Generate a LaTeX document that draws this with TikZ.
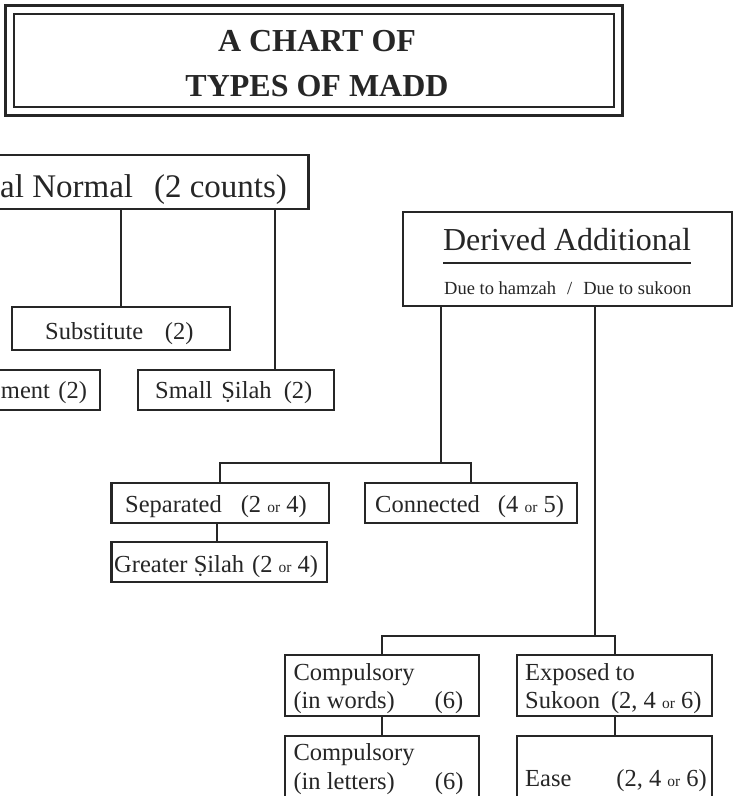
\documentclass[tikz,border=0pt]{standalone}
\usepackage{fontspec}
\setmainfont{Liberation Serif}
\definecolor{ink}{RGB}{38,38,38}
\newcommand\orsm{{\fontsize{15.5}{15.5}\selectfont or}}
\tikzset{
  box/.style={draw=ink, line width=2.3pt, rectangle, inner sep=0pt},
  link/.style={draw=ink, line width=2pt},
  lbl/.style={inner sep=0pt, text=ink, font=\fontsize{24.5}{28.3}\selectfont},
  biglbl/.style={inner sep=0pt, text=ink, font=\fontsize{33}{36}\selectfont},
}
\begin{document}
\begin{tikzpicture}[x=1pt,y=-1pt]
\fill[white] (0,0) rectangle (733,796);
\useasboundingbox (0,0) rectangle (733,796);

% title
\node[box, line width=2pt, minimum width=599.2pt, minimum height=93.3pt] (tframe) at (313.9,60.65) {};
\draw[ink, line width=3pt] ([shift={(-7.8,-7.3)}]tframe.north west) rectangle ([shift={(8,7.2)}]tframe.south east);
\node[inner sep=0pt, text=ink, align=center, font=\bfseries\fontsize{32}{45}\selectfont] (title) at (317,63.6) {A CHART OF\\TYPES OF MADD};

% boxes
\node[box, minimum width=348.5pt, minimum height=53.7pt] (normal) at (134.25,181.85) {};
\node[box, minimum width=218.3pt, minimum height=43.3pt] (subst) at (120.85,328.35) {};
\node[box, minimum width=140pt, minimum height=40pt] (repl) at (30,390) {};
\node[box, minimum width=195.7pt, minimum height=40pt] (small) at (236.15,390) {};
\node[box, minimum width=329pt, minimum height=94.3pt] (derived) at (567.2,258.85) {};
\node[box, minimum width=217.5pt, minimum height=39.4pt] (sep) at (220.25,503) {};
\node[box, minimum width=215.5pt, minimum height=40pt] (greater) at (219.25,562) {};
\node[box, minimum width=211.7pt, minimum height=39.4pt] (conn) at (470.85,503) {};
\node[box, minimum width=194.3pt, minimum height=61pt] (cw) at (382.15,685.5) {};
\node[box, minimum width=194.4pt, minimum height=61pt] (ex) at (614.5,685.5) {};
\node[box, minimum width=194.3pt, minimum height=66.3pt] (cl) at (382.15,768.85) {};
\node[box, minimum width=194.4pt, minimum height=66.3pt] (ease) at (614.5,768.85) {};

% texts
\node[biglbl, anchor=base west] (normalt) at (0,197) {al Normal\hspace{21pt}(2 counts)};
\node[inner sep=0pt, text=ink, font=\fontsize{32}{36}\selectfont, anchor=base] (dert) at (567,250.7) {Derived Additional};
\draw[ink, line width=1.5pt] (443,263) -- (691,263);
\node[inner sep=0pt, text=ink, font=\fontsize{18.5}{20}\selectfont, anchor=base west] (duet) at (444,294.3) {Due to hamzah\hspace{11pt}/\hspace{11pt}Due to sukoon};
\node[lbl, anchor=base west] (substt) at (45,339.5) {Substitute\hspace{21.7pt}(2)};
\node[lbl, anchor=base west] (replt) at (0.8,398.5) {ment\hspace{8.5pt}(2)};
\node[lbl, anchor=base west] (smallt) at (155,398.5) {Small\hspace{9pt}Ṣilah\hspace{12pt}(2)};
\node[lbl, anchor=base west] (sept) at (125,512) {Separated\hspace{19pt}(2 \orsm{} 4)};
\node[lbl, anchor=base west] (greatert) at (114,572) {Greater Ṣilah\hspace{8pt}(2 \orsm{} 4)};
\node[lbl, anchor=base west] (connt) at (375,512) {Connected\hspace{18pt}(4 \orsm{} 5)};
\node[lbl, align=left, anchor=north west] (cwt) at (293.3,663) {Compulsory\\\makebox[169.7pt][s]{(in words)\hfill(6)}};
\node[lbl, align=left, anchor=north west] (ext) at (525,663) {Exposed to\\Sukoon\hspace{11pt}(2, 4 \orsm{} 6)};
\node[lbl, font=\fontsize{24.5}{29.3}\selectfont, align=left, anchor=north west] (clt) at (293.3,743.3) {Compulsory\\\makebox[170pt][s]{(in letters)\hfill(6)}};
\node[lbl, anchor=base west] (easet) at (525,786.7) {\makebox[181.7pt][s]{Ease\hfill(2, 4 \orsm{} 6)}};

% connectors
\coordinate (sx) at (275.3,0);
\coordinate (sg) at (217,0);
\coordinate (ja) at (440.5,464);
\coordinate (jb) at (594.5,637);
\draw[link] (normal.south -| subst.north) -- (subst.north);
\draw[link] (normal.south -| sx) -- (small.north -| sx);
\draw[link] (sep.north) -- ++(0,-19.3) -| (conn.north);
\draw[link] (derived.south -| ja) -- (ja);
\draw[link] (sep.south -| sg) -- (greater.north -| sg);
\draw[link] (cw.north) -- ++(0,-18) -| (ex.north);
\draw[link] (derived.south -| jb) -- (jb);
\draw[link] (cw.south) -- (cl.north);
\draw[link] (ex.south) -- (ease.north);
\end{tikzpicture}
\end{document}
